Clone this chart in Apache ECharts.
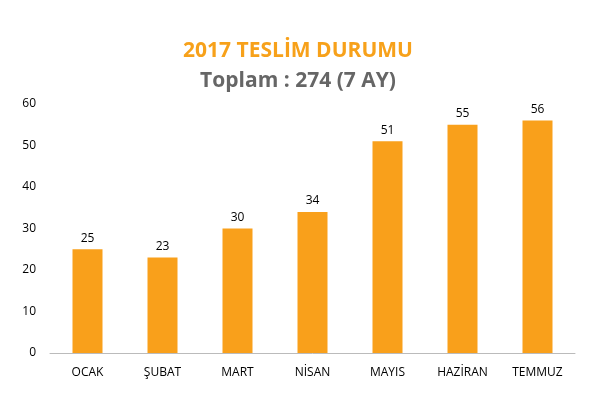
<!DOCTYPE html><html><head><meta charset="utf-8"><script src="https://cdn.jsdelivr.net/npm/echarts@6/dist/echarts.min.js"></script>
<style>html,body{margin:0;background:#fff}#c{width:596px;height:413px}</style></head><body><div id="c"></div><script>
const categories=["OCAK","ŞUBAT","MART","NİSAN","MAYIS","HAZİRAN","TEMMUZ"];
const values=[25,23,30,34,51,55,56];
const yTicks=[0,10,20,30,40,50,60];
const c=echarts.init(document.getElementById('c'));
c.setOption({
 title:[{text:"2017 TESLİM DURUMU",left:'center',top:36,textStyle:{color:'#F7A11A',fontSize:21,fontWeight:'bold',fontFamily:'Open Sans'}},
 {text:"Toplam : 274 (7 AY)",left:'center',top:66,textStyle:{color:'#666',fontSize:21,fontWeight:'bold',fontFamily:'Open Sans'}}],
 grid:{left:50,right:21,top:104,bottom:60},
 xAxis:{type:'category',data:categories,axisLine:{lineStyle:{color:'#bbb'}},axisTick:{show:false},axisLabel:{color:'#000',fontSize:12,margin:14,fontFamily:'Open Sans'}},
 yAxis:{type:'value',min:0,max:60,interval:10,axisLine:{show:false},splitLine:{show:false},axisLabel:{color:'#000',fontSize:12,margin:14,fontFamily:'Open Sans',formatter:v=>yTicks.includes(v)?v:''}},
 series:[{type:'bar',data:values,barWidth:'40%',itemStyle:{color:'#F9A01B'},label:{show:true,position:'top',color:'#000',fontSize:12,fontFamily:'Open Sans'}}]
});
</script></body></html>
